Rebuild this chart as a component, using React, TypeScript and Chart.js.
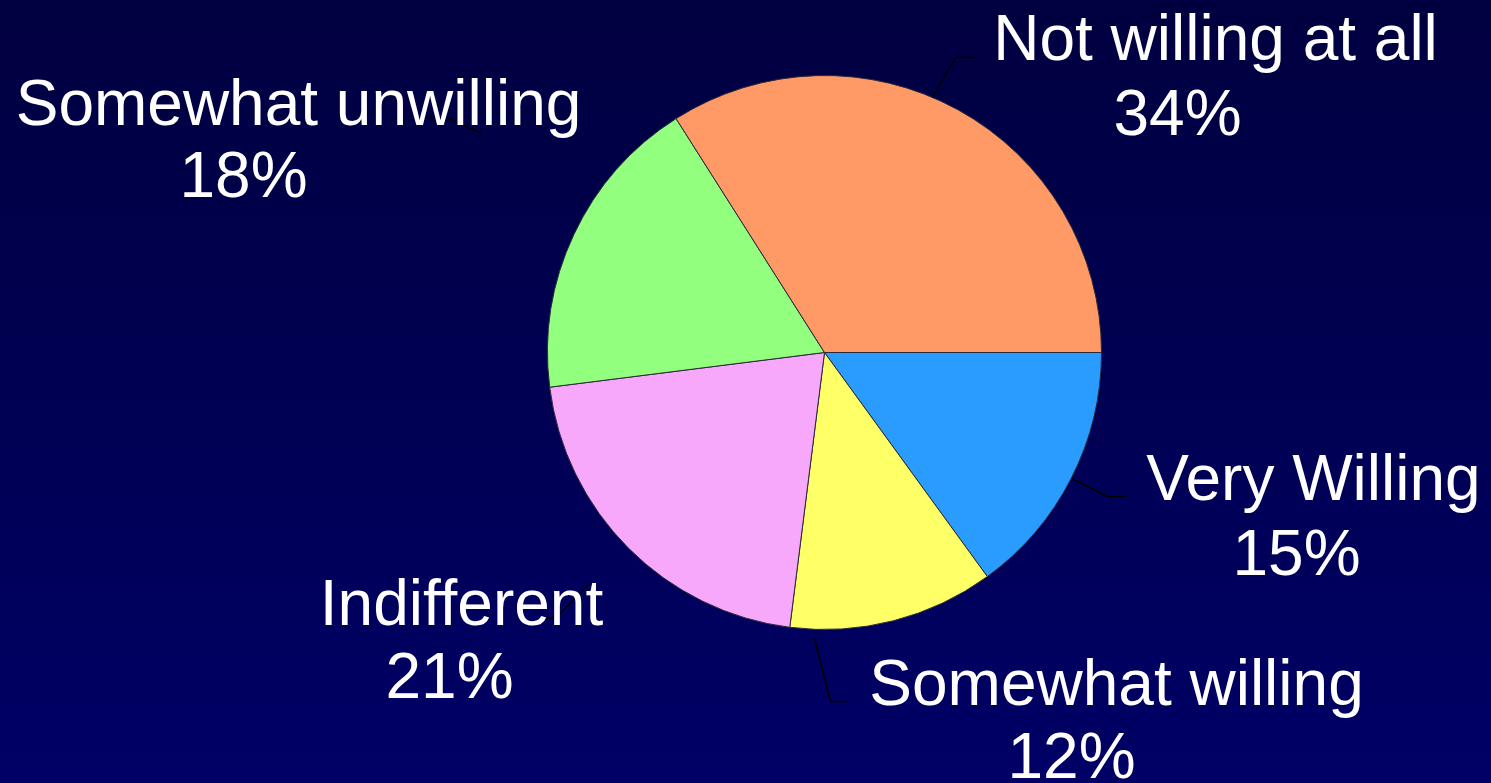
import React, { useEffect, useRef } from "react";
import { Chart, registerables } from "chart.js";

Chart.register(...registerables);

// ---- data ----
const categories = [
  "Very Willing",
  "Somewhat willing",
  "Indifferent",
  "Somewhat unwilling",
  "Not willing at all",
];
const values = [15, 12, 21, 18, 34];
const percentLabels = ["15%", "12%", "21%", "18%", "34%"];

// ---- styles ----
const sliceColors = ["#2A9BFF", "#FFFF66", "#F7A8FA", "#92FF7E", "#FF9966"];

// label layout: offsets from the pie centre (px): first line, second line, leader polyline
const labelLayout = [
  { l1: [489, 147], l2: [472, 222], leader: [[247, 126], [283, 144], [302, 144]] },
  { l1: [292, 352], l2: [247, 425], leader: [[-10, 286], [6, 349], [24, 349]] },
  { l1: [-363, 272], l2: [-375, 345], leader: [[-235, 231], [-267, 264], [-282, 267]] },
  { l1: [-526, -228], l2: [-581, -156], leader: [[-343, -219], [-378, -235], [-397, -235]] },
  { l1: [391, -293], l2: [353, -218], leader: [[108, -255], [131, -295], [150, -295]] },
];

const bgPlugin = {
  id: "bgGradient",
  beforeDraw(chart: any) {
    const { ctx, width, height } = chart;
    const g = ctx.createLinearGradient(0, 0, 0, height);
    g.addColorStop(0, "#000040");
    g.addColorStop(1, "#000066");
    ctx.save();
    ctx.fillStyle = g;
    ctx.fillRect(0, 0, width, height);
    ctx.restore();
  },
};

const labelPlugin = {
  id: "sliceLabels",
  afterDatasetsDraw(chart: any) {
    const { ctx } = chart;
    const meta = chart.getDatasetMeta(0);
    const arc = meta.data[0];
    if (!arc) return;
    const cx = arc.x;
    const cy = arc.y;
    ctx.save();
    // leader lines
    ctx.strokeStyle = "#000000";
    ctx.lineWidth = 1.5;
    labelLayout.forEach((lay) => {
      ctx.beginPath();
      lay.leader.forEach((p, i) => {
        if (i === 0) ctx.moveTo(cx + p[0], cy + p[1]);
        else ctx.lineTo(cx + p[0], cy + p[1]);
      });
      ctx.stroke();
    });
    // text
    ctx.fillStyle = "#FFFFFF";
    ctx.font = '64px "Liberation Sans", Arial, sans-serif';
    ctx.textAlign = "center";
    ctx.textBaseline = "alphabetic";
    categories.forEach((cat, i) => {
      const lay = labelLayout[i];
      ctx.fillText(cat, cx + lay.l1[0], cy + lay.l1[1]);
      ctx.fillText(percentLabels[i], cx + lay.l2[0], cy + lay.l2[1]);
    });
    ctx.restore();
  },
};

export default function App() {
  const canvasRef = useRef<HTMLCanvasElement | null>(null);

  useEffect(() => {
    if (!canvasRef.current) return;
    const chart = new Chart(canvasRef.current, {
      type: "pie",
      data: {
        labels: categories,
        datasets: [
          {
            data: values,
            backgroundColor: sliceColors,
            borderColor: "#2a2a3a",
            borderWidth: 1,
          },
        ],
      },
      options: {
        responsive: false,
        animation: false,
        rotation: 90,
        layout: { padding: { left: 547, right: 389, top: 75, bottom: 153 } },
        plugins: {
          legend: { display: false },
          tooltip: { enabled: false },
        },
      },
      plugins: [bgPlugin, labelPlugin],
    });
    return () => chart.destroy();
  }, []);

  return (
    <div style={{ position: "fixed", left: 0, top: 0, width: 1491, height: 783 }}>
      <canvas ref={canvasRef} width={1491} height={783} style={{ width: 1491, height: 783, display: "block" }} />
    </div>
  );
}
